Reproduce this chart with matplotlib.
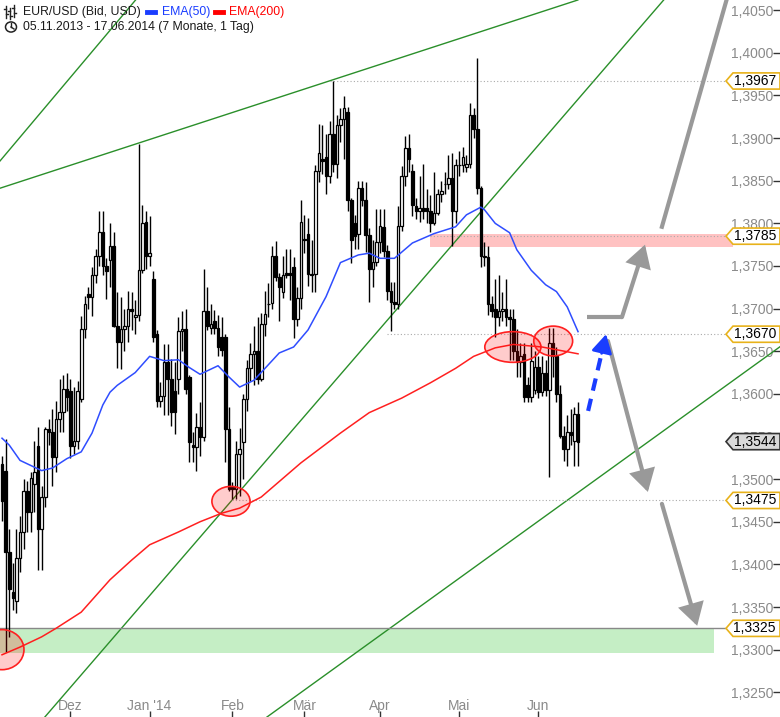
import numpy as np
import pandas as pd
import matplotlib
matplotlib.use('Agg')
import matplotlib.pyplot as plt
from matplotlib.patches import Ellipse, Polygon, FancyArrowPatch, Rectangle, Circle
from matplotlib.lines import Line2D
from matplotlib.transforms import blended_transform_factory

plt.rcParams['font.family'] = ['Liberation Sans', 'DejaVu Sans']

# Tageskerzen EUR/USD (Bid), 05.11.2013 - 17.06.2014
start_date = '2013-11-05'

opens = [
    # Nov
    1.3518, 1.3510, 1.3415, 1.3368, 1.3357, 1.3408, 1.3438, 1.3486, 1.3461, 1.3494,
    1.3539, 1.3441, 1.3479, 1.3559, 1.3555, 1.3526, 1.3571, 1.3579, 1.3606,
    # Dez
    1.3603, 1.3539, 1.3545, 1.3594, 1.3676, 1.3717, 1.3714, 1.3739, 1.3762, 1.3790,
    1.3750, 1.3757, 1.3774, 1.3680, 1.3661, 1.3676, 1.3680, 1.3700, 1.3690, 1.3693,
    # 30.12. - 03.02.
    1.3745, 1.3802, 1.3762, 1.3735, 1.3670, 1.3592, 1.3597, 1.3637, 1.3617, 1.3603,
    1.3617, 1.3674, 1.3676, 1.3620, 1.3540, 1.3538, 1.3561, 1.3550, 1.3697, 1.3677,
    1.3685, 1.3677, 1.3667, 1.3667, 1.3559, 1.3491,
    # 04.02. - 13.03.
    1.3488, 1.3529, 1.3543, 1.3594, 1.3630, 1.3647, 1.3650, 1.3617, 1.3682, 1.3706,
    1.3707, 1.3762, 1.3737, 1.3720, 1.3742, 1.3742, 1.3749, 1.3688, 1.3712, 1.3782,
    1.3788, 1.3741, 1.3741, 1.3862, 1.3875, 1.3878, 1.3856, 1.3905,
    # 14.03. - 08.05.
    1.3870, 1.3915, 1.3922, 1.3931, 1.3827, 1.3800, 1.3788, 1.3841, 1.3827, 1.3786,
    1.3747, 1.3755, 1.3778, 1.3796, 1.3768, 1.3721, 1.3708, 1.3706, 1.3797, 1.3856,
    1.3888, 1.3862, 1.3820, 1.3815, 1.3818, 1.3818, 1.3815, 1.3800, 1.3812, 1.3835,
    1.3846, 1.3846, 1.3853, 1.3814, 1.3868, 1.3868, 1.3866, 1.3870, 1.3927, 1.3911,
    # 09.05. - 04.06.
    1.3841, 1.3760, 1.3760, 1.3705, 1.3700, 1.3690, 1.3697, 1.3700, 1.3690, 1.3688,
    1.3650, 1.3637, 1.3647, 1.3610, 1.3596, 1.3605, 1.3632, 1.3602, 1.3625,
    # 05.06. - 17.06.
    1.3605, 1.3660, 1.3645, 1.3600, 1.3551, 1.3535, 1.3555, 1.3545, 1.3576,
]
highs = [
    1.3527, 1.3547, 1.3441, 1.3402, 1.3441, 1.3457, 1.3500, 1.3498, 1.3508, 1.3545,
    1.3561, 1.3492, 1.3561, 1.3570, 1.3582, 1.3592, 1.3618, 1.3622, 1.3625,
    1.3617, 1.3608, 1.3615, 1.3691, 1.3715, 1.3725, 1.3749, 1.3770, 1.3815, 1.3814,
    1.3759, 1.3800, 1.3790, 1.3720, 1.3714, 1.3700, 1.3721, 1.3720, 1.3710, 1.3893,
    1.3821, 1.3815, 1.3809, 1.3744, 1.3675, 1.3614, 1.3658, 1.3658, 1.3641, 1.3637,
    1.3690, 1.3697, 1.3700, 1.3622, 1.3555, 1.3578, 1.3590, 1.3747, 1.3725, 1.3705,
    1.3698, 1.3692, 1.3690, 1.3670, 1.3585, 1.3497,
    1.3545, 1.3560, 1.3600, 1.3640, 1.3660, 1.3680, 1.3690, 1.3695, 1.3721, 1.3730,
    1.3774, 1.3779, 1.3742, 1.3762, 1.3770, 1.3770, 1.3760, 1.3725, 1.3827, 1.3810,
    1.3806, 1.3780, 1.3868, 1.3917, 1.3915, 1.3905, 1.3920, 1.3967,
    1.3927, 1.3935, 1.3949, 1.3937, 1.3830, 1.3810, 1.3850, 1.3850, 1.3849, 1.3794,
    1.3780, 1.3817, 1.3817, 1.3817, 1.3775, 1.3731, 1.3731, 1.3820, 1.3867, 1.3902,
    1.3905, 1.3870, 1.3830, 1.3855, 1.3870, 1.3840, 1.3833, 1.3860, 1.3840, 1.3850,
    1.3860, 1.3880, 1.3882, 1.3875, 1.3885, 1.3890, 1.3880, 1.3941, 1.3935, 1.3994,
    1.3844, 1.3778, 1.3774, 1.3715, 1.3735, 1.3740, 1.3720, 1.3735, 1.3700, 1.3700,
    1.3676, 1.3660, 1.3660, 1.3620, 1.3660, 1.3650, 1.3645, 1.3645, 1.3640,
    1.3677, 1.3677, 1.3655, 1.3610, 1.3562, 1.3575, 1.3582, 1.3585, 1.3590,
]
lows = [
    1.3451, 1.3297, 1.3315, 1.3347, 1.3343, 1.3391, 1.3418, 1.3438, 1.3438, 1.3461,
    1.3393, 1.3393, 1.3467, 1.3540, 1.3492, 1.3508, 1.3555, 1.3555, 1.3580,
    1.3525, 1.3530, 1.3535, 1.3590, 1.3665, 1.3700, 1.3691, 1.3730, 1.3750, 1.3739,
    1.3711, 1.3725, 1.3679, 1.3630, 1.3629, 1.3650, 1.3661, 1.3675, 1.3670, 1.3685,
    1.3742, 1.3747, 1.3750, 1.3661, 1.3585, 1.3585, 1.3575, 1.3575, 1.3562, 1.3553,
    1.3600, 1.3650, 1.3600, 1.3520, 1.3520, 1.3509, 1.3527, 1.3545, 1.3675, 1.3670,
    1.3670, 1.3645, 1.3645, 1.3520, 1.3486, 1.3477,
    1.3477, 1.3480, 1.3500, 1.3580, 1.3615, 1.3610, 1.3612, 1.3615, 1.3668, 1.3690,
    1.3700, 1.3732, 1.3685, 1.3712, 1.3736, 1.3710, 1.3665, 1.3680, 1.3700, 1.3765,
    1.3727, 1.3720, 1.3720, 1.3849, 1.3858, 1.3835, 1.3847, 1.3860,
    1.3853, 1.3895, 1.3875, 1.3814, 1.3753, 1.3770, 1.3770, 1.3820, 1.3767, 1.3708,
    1.3725, 1.3750, 1.3765, 1.3760, 1.3710, 1.3674, 1.3700, 1.3700, 1.3791, 1.3844,
    1.3860, 1.3809, 1.3805, 1.3802, 1.3805, 1.3800, 1.3790, 1.3798, 1.3810, 1.3825,
    1.3835, 1.3840, 1.3774, 1.3800, 1.3855, 1.3860, 1.3860, 1.3865, 1.3900, 1.3835,
    1.3749, 1.3750, 1.3692, 1.3690, 1.3667, 1.3680, 1.3685, 1.3680, 1.3640, 1.3640,
    1.3620, 1.3620, 1.3590, 1.3590, 1.3590, 1.3600, 1.3595, 1.3598, 1.3598,
    1.3503, 1.3620, 1.3590, 1.3548, 1.3521, 1.3515, 1.3540, 1.3515, 1.3515,
]
closes = [
    1.3474, 1.3415, 1.3371, 1.3360, 1.3408, 1.3438, 1.3486, 1.3461, 1.3501, 1.3508,
    1.3441, 1.3479, 1.3559, 1.3555, 1.3526, 1.3571, 1.3579, 1.3606, 1.3596,
    1.3539, 1.3545, 1.3603, 1.3676, 1.3706, 1.3714, 1.3739, 1.3762, 1.3790, 1.3750,
    1.3744, 1.3774, 1.3680, 1.3661, 1.3676, 1.3680, 1.3700, 1.3697, 1.3693, 1.3745,
    1.3800, 1.3762, 1.3765, 1.3667, 1.3592, 1.3597, 1.3637, 1.3617, 1.3579, 1.3579,
    1.3674, 1.3676, 1.3606, 1.3543, 1.3538, 1.3561, 1.3550, 1.3697, 1.3680, 1.3682,
    1.3677, 1.3655, 1.3652, 1.3559, 1.3488, 1.3488,
    1.3529, 1.3535, 1.3594, 1.3630, 1.3647, 1.3650, 1.3617, 1.3682, 1.3694, 1.3705,
    1.3762, 1.3737, 1.3725, 1.3740, 1.3740, 1.3740, 1.3688, 1.3712, 1.3802, 1.3780,
    1.3741, 1.3739, 1.3862, 1.3882, 1.3873, 1.3856, 1.3905, 1.3870,
    1.3915, 1.3922, 1.3935, 1.3827, 1.3780, 1.3785, 1.3841, 1.3827, 1.3786, 1.3747,
    1.3755, 1.3778, 1.3797, 1.3768, 1.3721, 1.3708, 1.3706, 1.3797, 1.3856, 1.3888,
    1.3876, 1.3821, 1.3815, 1.3818, 1.3815, 1.3815, 1.3800, 1.3812, 1.3835, 1.3838,
    1.3846, 1.3853, 1.3814, 1.3868, 1.3868, 1.3878, 1.3870, 1.3927, 1.3911, 1.3841,
    1.3762, 1.3762, 1.3705, 1.3697, 1.3690, 1.3697, 1.3700, 1.3690, 1.3688, 1.3650,
    1.3637, 1.3645, 1.3596, 1.3596, 1.3639, 1.3632, 1.3602, 1.3625, 1.3605,
    1.3660, 1.3645, 1.3600, 1.3551, 1.3535, 1.3555, 1.3552, 1.3576, 1.3544,
]

# EMA-Linien (Kerzenindex, Kurs)
ema50_idx = [0, 2, 5, 9, 11, 14, 18, 22, 25, 28, 30, 32, 37, 41, 45, 49, 52, 55, 60, 63,
             66, 70, 77, 81, 85, 90, 94, 99, 102, 105, 109, 114, 120, 126, 129, 133, 134,
             137, 141, 143, 147, 151, 154, 157, 160]
ema50_val = [1.3548, 1.3540, 1.3522, 1.3514, 1.3510, 1.3513, 1.3524, 1.3532, 1.3554, 1.3587,
             1.3602, 1.3610, 1.3625, 1.3644, 1.3639, 1.3640, 1.3631, 1.3623, 1.3633, 1.3620,
             1.3608, 1.3616, 1.3648, 1.3655, 1.3675, 1.3714, 1.3754, 1.3763, 1.3765, 1.3759,
             1.3759, 1.3777, 1.3788, 1.3796, 1.3810, 1.3819, 1.3816, 1.3800, 1.3789, 1.3769,
             1.3745, 1.3728, 1.3720, 1.3702, 1.3673]
ema200_idx = [0, 5, 11, 15, 22, 30, 36, 41, 49, 55, 61, 66, 72, 83, 94, 102, 111, 119, 126,
              131, 137, 142, 150, 160]
ema200_val = [1.3294, 1.3303, 1.3315, 1.3325, 1.3344, 1.3382, 1.3405, 1.3423, 1.3438, 1.3450,
              1.3460, 1.3466, 1.3479, 1.3519, 1.3554, 1.3578, 1.3595, 1.3613, 1.3630, 1.3644,
              1.3654, 1.3658, 1.3655, 1.3647]

# Marken rechts
levels = [1.3967, 1.3785, 1.3670, 1.3475, 1.3325]
level_from = [91, 119, 107, 64, -1]
last_price = 1.3544

month_labels = ['Dez', "Jan '14", 'Feb', 'Mär', 'Apr', 'Mai', 'Jun']
ytick_levels = np.arange(1.3250, 1.40501, 0.005)

# Trendlinien (zwei Punkte je Linie)
trend_lines = [
    ((0, 1.3876), (37.5, 1.4064)),
    ((11.9, 1.3221), (184.2, 1.4064)),
    ((0, 1.3842), (161.4, 1.4064)),
    ((73.6, 1.3221), (216.0, 1.3655)),
]

# Markierungen (Index, Kurs, Breite, Hoehe)
circles = [
    (0.0, 1.3300, 12.2, 0.0047),
    (63.6, 1.3474, 10.6, 0.0035),
    (141.9, 1.3655, 15.6, 0.0036),
    (153.1, 1.3662, 10.8, 0.0035),
]

# Pfeile / Szenarien
blue_arrow = [(162.8, 1.3580), (167.8, 1.3670)]
grey_up = [(162.5, 1.3690), (172.2, 1.3690), (178.6, 1.3775)]
grey_up_long = [(183.3, 1.3796), (203.0, 1.4088)]
grey_down1 = [(168.3, 1.3662), (179.4, 1.3485)]
grey_down2 = [(183.3, 1.3471), (193.1, 1.3328)]

pink_zone = (118.9, 203.0, 1.3772, 1.3787)
green_zone = (-1.0, 197.8, 1.3296, 1.3325)

W, H = 780, 717
fig = plt.figure(figsize=(W / 100, H / 100), dpi=100)
ax = fig.add_axes([0, 0, 1, 1])
ax.set_xlim(-0.56, 216.1)
ax.set_ylim(1.3221, 1.4062)
for s in ax.spines.values():
    s.set_visible(False)
ax.set_axisbelow(True)

o = np.array(opens); h = np.array(highs); l = np.array(lows); c = np.array(closes)
x = np.arange(len(c))
dates = pd.bdate_range(start_date, periods=len(c))

# Zonen
ax.add_patch(Rectangle((pink_zone[0], pink_zone[2]), pink_zone[1] - pink_zone[0],
                       pink_zone[3] - pink_zone[2], facecolor='#ffc2c2', edgecolor='none', zorder=1))
ax.add_patch(Rectangle((green_zone[0], green_zone[2]), green_zone[1] - green_zone[0],
                       green_zone[3] - green_zone[2], facecolor='#c5eec5', edgecolor='none', zorder=1))

# Kerzen
ax.vlines(x, l, h, color='black', lw=1, zorder=3)
body_b = np.minimum(o, c)
body_h = np.maximum(np.abs(c - o), 0.00006)
ax.bar(x, body_h, bottom=body_b, width=0.72, color=np.where(c >= o, 'white', 'black'),
       edgecolor='black', linewidth=0.9, zorder=4)

# EMAs
ax.plot(ema50_idx, ema50_val, color='#2f4dff', lw=1.1, zorder=5)
ax.plot(ema200_idx, ema200_val, color='#ff2020', lw=1.1, zorder=5)

# Trendlinien
for p1, p2 in trend_lines:
    ax.axline(p1, p2, color='#2a8f2a', lw=1.0, zorder=2)

# Kreise
for cx, cy, cw, ch in circles:
    ax.add_patch(Ellipse((cx, cy), cw, ch, facecolor=(1, 0, 0, 0.2), edgecolor='#ff2020',
                         lw=1.2, zorder=6))

# Pfeile
grey = '#999999'
ax.plot([p[0] for p in grey_up[:2]], [p[1] for p in grey_up[:2]], color=grey, lw=3,
        solid_capstyle='butt', zorder=6)
for a, b in [grey_up[1:], grey_down1, grey_down2]:
    ax.add_patch(FancyArrowPatch(a, b, arrowstyle='-|>,head_length=0.85,head_width=0.5',
                                 mutation_scale=14, lw=3, color=grey, shrinkA=0, shrinkB=0,
                                 joinstyle='miter', zorder=6))
ax.plot([p[0] for p in grey_up_long], [p[1] for p in grey_up_long], color=grey, lw=3, zorder=6)

blue = '#1a3dff'
(bx0, by0), (bx1, by1) = blue_arrow
ax.plot([bx0, bx0 + (bx1 - bx0) * 0.8], [by0, by0 + (by1 - by0) * 0.8], color=blue, lw=3,
        dashes=(3, 2), zorder=7)
ax.add_patch(FancyArrowPatch((bx0 + (bx1 - bx0) * 0.75, by0 + (by1 - by0) * 0.75), (bx1, by1),
                             arrowstyle='-|>,head_length=0.8,head_width=0.45', mutation_scale=14,
                             lw=2, color=blue, shrinkA=0, shrinkB=0, zorder=7))

# Kurslinien und Marken rechts
blend = blended_transform_factory(ax.transAxes, ax.transData)
tip_idx = 201.0
for lv, x0 in zip(levels, level_from):
    if lv == 1.3325:
        ax.plot([x0, tip_idx], [lv, lv], color='#888888', lw=1, zorder=2)
    else:
        ax.plot([x0, tip_idx], [lv, lv], color='#aaaaaa', lw=0.8, dashes=(1, 2), zorder=2)

hh = 0.00095
narrow = ['Liberation Sans Narrow', 'Liberation Sans', 'DejaVu Sans']


def price_box(level, face, edge):
    verts = [(726 / W, level), (733 / W, level + hh), (1.0, level + hh),
             (1.0, level - hh), (733 / W, level - hh)]
    ax.add_patch(Polygon(verts, closed=True, transform=blend, facecolor=face, edgecolor=edge,
                         lw=1.2, zorder=8, clip_on=False))
    ax.text(776 / W, level, f'{level:.4f}'.replace('.', ','), transform=blend, ha='right',
            va='center', fontsize=10, family=narrow, color='black', zorder=9)


for lv in levels:
    price_box(lv, 'white', '#e8b21a')
price_box(last_price, '#d9d9d9', '#333333')

# Achsen
ax.yaxis.tick_right()
ax.set_yticks(ytick_levels)
ax.set_yticklabels([f'{v:.4f}'.replace('.', ',') for v in ytick_levels])
ax.tick_params(axis='y', direction='in', length=5, width=1, color='#333333', pad=-4.5,
               labelsize=10, labelcolor='#8a8a8a')
for t in ax.get_yticklabels():
    t.set_horizontalalignment('right')
    t.set_fontfamily(narrow)

month_pos = [i for i in range(1, len(dates)) if dates[i].month != dates[i - 1].month]
ax.set_xticks(month_pos)
ax.set_xticklabels(month_labels)
ax.tick_params(axis='x', direction='in', length=4, width=1, color='#333333', pad=-13,
               labelsize=10, labelcolor='#8a8a8a')
for t in ax.get_xticklabels():
    t.set_fontfamily(narrow)


# Kopfzeile
def fx(px):
    return px / W


def fy(py):
    return 1 - py / H


for bx, y1, y2, yo, yc in [(6, 6, 18, 9, 14), (10, 8, 19, 11, 16), (14, 5, 17, 8, 13)]:
    fig.add_artist(Line2D([fx(bx), fx(bx)], [fy(y1), fy(y2)], color='#222222', lw=1))
    fig.add_artist(Line2D([fx(bx - 2), fx(bx)], [fy(yo), fy(yo)], color='#222222', lw=1))
    fig.add_artist(Line2D([fx(bx), fx(bx + 2)], [fy(yc), fy(yc)], color='#222222', lw=1))
fig.add_artist(Circle((fx(11), fy(27)), 5.5 / W, transform=fig.transFigure, fill=False,
                      edgecolor='#222222', lw=1.1))
fig.add_artist(Line2D([fx(11), fx(11)], [fy(27), fy(23)], color='#222222', lw=1))
fig.add_artist(Line2D([fx(11), fx(14)], [fy(27), fy(29)], color='#222222', lw=1))

fig.text(fx(23), fy(12), 'EUR/USD (Bid, USD)', fontsize=8.8, color='#1a1a1a', va='center')
fig.add_artist(Line2D([fx(147), fx(155)], [fy(12), fy(12)], color='#1a3dff', lw=3.5))
fig.text(fx(162), fy(12), 'EMA(50)', fontsize=8.8, color='#1a3dff', va='center')
fig.add_artist(Line2D([fx(215), fx(223)], [fy(12), fy(12)], color='#ff0000', lw=3.5))
fig.text(fx(229), fy(12), 'EMA(200)', fontsize=8.8, color='#ff0000', va='center')
fig.text(fx(23), fy(27), '05.11.2013 - 17.06.2014 (7 Monate, 1 Tag)', fontsize=8.8,
         color='#1a1a1a', va='center')

fig.savefig('out.png', dpi=100)
